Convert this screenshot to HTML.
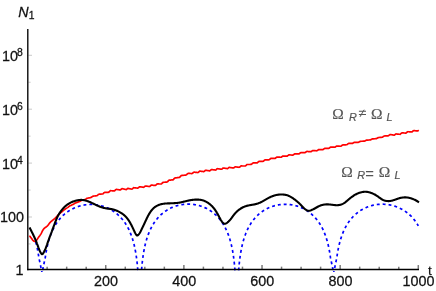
<!DOCTYPE html>
<html><head><meta charset="utf-8"><style>
html,body{margin:0;padding:0;background:#fff;}
body{width:436px;height:291px;position:relative;overflow:hidden;font-family:"Liberation Sans",sans-serif;color:#111;}
.txw{position:absolute;left:0;top:0;width:436px;height:291px;overflow:hidden;will-change:transform;}
.txt{position:absolute;left:0;top:0;width:4360px;height:2910px;transform:scale(0.1);transform-origin:0 0;}
.t{position:absolute;font-size:144px;line-height:1;white-space:nowrap;-webkit-text-stroke:2.6px #111;}
.xl{transform:translateX(-50%);top:2741px;}
.s{font-size:104px;position:relative;}
.lab{position:absolute;color:#555;-webkit-text-stroke:2px #555;white-space:nowrap;line-height:1;font-family:"Liberation Serif",serif;font-size:155px;}
.lab i{font-family:"Liberation Sans",sans-serif;font-size:109px;font-style:italic;position:relative;top:23px;}
.lab b{font-family:"Liberation Sans",sans-serif;font-weight:normal;-webkit-text-stroke:0;position:relative;display:inline-block;}
.lab .ne{font-size:148px;top:-12px;clip-path:inset(27% 0 18% 0);transform:scaleY(0.89);}
.lab .eq{font-size:150px;top:14px;}
</style></head><body>
<svg width="436" height="291" viewBox="0 0 436 291" style="position:absolute;left:0;top:0">
<clipPath id="c"><rect x="27" y="20" width="395" height="251.9"/></clipPath>
<g fill="none" stroke-linejoin="round" clip-path="url(#c)">
<path d="M29.3,235.9 L29.51,236 L29.76,236.21 L30.04,236.51 L30.34,236.89 L30.67,237.33 L31.02,237.81 L31.39,238.32 L31.77,238.84 L32.16,239.35 L32.56,239.85 L32.97,240.31 L33.38,240.72 L33.79,241.05 L34.19,241.31 L34.58,241.46 L34.97,241.5 L35.34,241.41 L35.69,241.21 L36.04,240.91 L36.38,240.53 L36.71,240.09 L37.03,239.61 L37.35,239.11 L37.66,238.62 L37.97,238.14 L38.28,237.68 L38.59,237.25 L38.89,236.83 L39.19,236.43 L39.48,236.03 L39.77,235.65 L40.05,235.26 L40.32,234.87 L40.59,234.48 L40.84,234.07 L41.08,233.65 L41.32,233.22 L41.54,232.77 L41.76,232.32 L41.99,231.86 L42.21,231.41 L42.44,230.95 L42.68,230.5 L42.93,230.06 L43.2,229.64 L43.49,229.23 L43.79,228.84 L44.13,228.47 L44.49,228.13 L44.87,227.82 L45.28,227.52 L45.69,227.23 L46.1,226.94 L46.51,226.64 L46.9,226.34 L47.28,226.01 L47.63,225.66 L47.96,225.29 L48.27,224.9 L48.57,224.49 L48.86,224.08 L49.15,223.67 L49.45,223.27 L49.76,222.87 L50.08,222.49 L50.42,222.13 L50.78,221.79 L51.16,221.46 L51.54,221.13 L51.93,220.82 L52.32,220.51 L52.72,220.2 L53.12,219.89 L53.51,219.58 L53.9,219.27 L54.28,218.94 L54.66,218.61 L55.02,218.26 L55.38,217.92 L55.73,217.57 L56.08,217.21 L56.43,216.85 L56.77,216.48 L57.12,216.11 L57.46,215.74 L57.81,215.37 L58.16,215.02 L58.52,214.67 L58.88,214.33 L59.24,213.99 L59.61,213.66 L59.98,213.33 L60.36,213.01 L60.74,212.7 L61.12,212.38 L61.5,212.07 L61.89,211.77 L62.28,211.43 L62.67,211.08 L63.07,210.74 L63.46,210.39 L63.86,210.09 L64.25,209.8 L64.65,209.51 L65.06,209.23 L65.46,208.95 L65.87,208.67 L66.27,208.4 L66.69,208.14 L67.1,207.88 L67.51,207.62 L67.93,207.33 L68.35,207 L68.77,206.67 L69.19,206.34 L69.62,206.07 L70.05,205.84 L70.48,205.61 L70.91,205.39 L71.35,205.17 L71.79,204.96 L72.23,204.76 L72.67,204.56 L73.12,204.37 L73.56,204.18 L74.01,203.87 L74.46,203.57 L74.92,203.26 L75.37,203 L75.83,202.83 L76.28,202.66 L76.74,202.5 L77.2,202.34 L77.66,202.18 L78.12,202.03 L78.59,201.89 L79.05,201.75 L79.52,201.57 L79.98,201.27 L80.45,200.96 L80.91,200.65 L81.38,200.46 L81.85,200.33 L82.32,200.2 L82.78,200.07 L83.25,199.95 L83.72,199.83 L84.19,199.71 L84.66,199.6 L85.13,199.49 L85.6,199.23 L86.07,198.91 L86.54,198.59 L87.01,198.31 L87.48,198.21 L87.95,198.1 L88.43,198 L88.9,197.9 L89.37,197.8 L89.84,197.71 L90.32,197.62 L90.79,197.54 L91.26,197.38 L91.74,197.03 L92.21,196.68 L92.69,196.31 L93.16,196.19 L93.64,196.11 L94.11,196.03 L94.59,195.97 L95.06,195.9 L95.54,195.84 L96.02,195.79 L96.49,195.74 L96.97,195.69 L97.44,195.28 L97.92,194.87 L98.4,194.44 L98.88,194.23 L99.35,194.18 L99.83,194.14 L100.31,194.1 L100.78,194.07 L101.26,194.04 L101.74,194.02 L102.22,194 L102.7,193.99 L103.18,193.63 L103.65,193.16 L104.13,192.67 L104.61,192.34 L105.09,192.33 L105.57,192.32 L106.05,192.32 L106.53,192.32 L107.01,192.32 L107.49,192.32 L107.97,192.32 L108.46,192.33 L108.94,192.05 L109.42,191.57 L109.91,191.09 L110.39,190.7 L110.88,190.71 L111.36,190.73 L111.85,190.75 L112.34,190.78 L112.82,190.8 L113.31,190.83 L113.8,190.87 L114.29,190.9 L114.78,190.66 L115.27,190.2 L115.76,189.74 L116.26,189.41 L116.75,189.46 L117.24,189.52 L117.74,189.58 L118.23,189.65 L118.73,189.72 L119.22,189.79 L119.72,189.87 L120.22,189.95 L120.71,189.67 L121.21,189.25 L121.71,188.84 L122.21,188.67 L122.71,188.78 L123.21,188.89 L123.71,189.01 L124.21,189.13 L124.71,189.25 L125.21,189.38 L125.71,189.5 L126.21,189.61 L126.71,189.22 L127.21,188.83 L127.71,188.44 L128.21,188.44 L128.7,188.56 L129.2,188.66 L129.7,188.76 L130.2,188.86 L130.69,188.95 L131.19,189.03 L131.68,189.1 L132.18,189.02 L132.67,188.58 L133.17,188.14 L133.66,187.7 L134.15,187.76 L134.65,187.81 L135.14,187.87 L135.63,187.92 L136.13,187.97 L136.62,188.03 L137.11,188.08 L137.61,188.14 L138.1,187.96 L138.59,187.52 L139.09,187.08 L139.58,186.73 L140.08,186.8 L140.57,186.87 L141.07,186.94 L141.56,187.02 L142.06,187.1 L142.56,187.17 L143.05,187.25 L143.55,187.33 L144.04,187.08 L144.54,186.66 L145.04,186.23 L145.53,185.98 L146.03,186.05 L146.52,186.13 L147.02,186.2 L147.51,186.27 L148.01,186.34 L148.5,186.41 L149,186.47 L149.49,186.53 L149.99,186.19 L150.48,185.75 L150.97,185.31 L151.46,185.1 L151.96,185.15 L152.45,185.2 L152.94,185.25 L153.43,185.3 L153.92,185.34 L154.41,185.38 L154.9,185.42 L155.39,185.46 L155.88,185.06 L156.37,184.6 L156.86,184.13 L157.35,183.91 L157.83,183.93 L158.32,183.95 L158.81,183.97 L159.29,183.98 L159.77,183.99 L160.26,184 L160.74,184.01 L161.22,184.01 L161.7,183.62 L162.18,183.13 L162.66,182.63 L163.14,182.31 L163.61,182.29 L164.09,182.27 L164.56,182.24 L165.03,182.21 L165.5,182.18 L165.98,182.15 L166.45,182.12 L166.92,182.08 L167.39,181.84 L167.86,181.32 L168.32,180.81 L168.79,180.29 L169.26,180.2 L169.73,180.16 L170.19,180.11 L170.66,180.06 L171.13,180.02 L171.6,179.97 L172.06,179.93 L172.53,179.88 L173,179.84 L173.46,179.38 L173.93,178.86 L174.4,178.34 L174.87,177.99 L175.33,177.93 L175.8,177.87 L176.27,177.81 L176.74,177.75 L177.2,177.69 L177.67,177.64 L178.14,177.58 L178.61,177.52 L179.08,177.46 L179.55,177.32 L180.02,176.84 L180.48,176.36 L180.95,175.88 L181.42,175.52 L181.89,175.46 L182.37,175.41 L182.84,175.36 L183.31,175.32 L183.78,175.27 L184.25,175.23 L184.73,175.19 L185.2,175.16 L185.68,175.13 L186.16,175 L186.64,174.55 L187.12,174.1 L187.6,173.65 L188.08,173.38 L188.56,173.39 L189.05,173.41 L189.53,173.43 L190.02,173.45 L190.51,173.49 L191,173.52 L191.49,173.56 L191.98,173.6 L192.47,173.3 L192.96,172.85 L193.45,172.4 L193.95,172.12 L194.44,172.17 L194.93,172.23 L195.43,172.28 L195.92,172.34 L196.41,172.39 L196.91,172.45 L197.4,172.51 L197.89,172.56 L198.39,172.24 L198.88,171.8 L199.37,171.36 L199.87,171.13 L200.36,171.19 L200.86,171.26 L201.35,171.32 L201.84,171.38 L202.34,171.45 L202.83,171.51 L203.33,171.58 L203.82,171.65 L204.32,171.29 L204.81,170.86 L205.31,170.43 L205.8,170.27 L206.3,170.34 L206.79,170.41 L207.29,170.49 L207.78,170.56 L208.28,170.64 L208.77,170.72 L209.27,170.79 L209.77,170.87 L210.26,170.45 L210.76,170.02 L211.25,169.6 L211.75,169.51 L212.25,169.58 L212.74,169.66 L213.24,169.73 L213.73,169.8 L214.23,169.87 L214.72,169.95 L215.22,170.02 L215.71,170.03 L216.21,169.6 L216.7,169.17 L217.2,168.74 L217.7,168.71 L218.19,168.78 L218.69,168.86 L219.18,168.93 L219.68,169.01 L220.17,169.08 L220.67,169.16 L221.17,169.24 L221.66,169.23 L222.16,168.82 L222.66,168.41 L223.15,168 L223.65,168 L224.15,168.08 L224.64,168.17 L225.14,168.25 L225.64,168.34 L226.14,168.42 L226.63,168.51 L227.13,168.59 L227.63,168.57 L228.13,168.18 L228.62,167.78 L229.12,167.39 L229.62,167.42 L230.12,167.51 L230.62,167.59 L231.11,167.68 L231.61,167.77 L232.11,167.85 L232.61,167.94 L233.11,168.02 L233.61,167.97 L234.1,167.58 L234.6,167.19 L235.1,166.8 L235.6,166.85 L236.09,166.92 L236.59,166.99 L237.09,167.06 L237.58,167.12 L238.08,167.18 L238.57,167.24 L239.06,167.29 L239.56,167.19 L240.05,166.78 L240.54,166.37 L241.03,165.95 L241.52,165.94 L242.01,165.96 L242.5,165.98 L242.99,166 L243.47,166.01 L243.96,166.02 L244.45,166.02 L244.93,166.02 L245.42,165.96 L245.9,165.53 L246.39,165.09 L246.87,164.65 L247.36,164.52 L247.84,164.52 L248.32,164.51 L248.81,164.5 L249.29,164.49 L249.78,164.48 L250.26,164.47 L250.74,164.46 L251.23,164.45 L251.71,164.07 L252.19,163.64 L252.67,163.21 L253.16,162.96 L253.64,162.95 L254.12,162.94 L254.61,162.93 L255.09,162.91 L255.57,162.9 L256.06,162.89 L256.54,162.88 L257.03,162.87 L257.51,162.63 L257.99,162.21 L258.48,161.79 L258.96,161.43 L259.45,161.42 L259.93,161.41 L260.42,161.4 L260.9,161.39 L261.39,161.38 L261.87,161.37 L262.35,161.36 L262.84,161.34 L263.32,161.23 L263.81,160.82 L264.29,160.4 L264.78,159.99 L265.26,159.89 L265.74,159.88 L266.23,159.86 L266.71,159.85 L267.19,159.83 L267.68,159.81 L268.16,159.8 L268.65,159.79 L269.13,159.77 L269.61,159.4 L270.1,158.99 L270.58,158.59 L271.07,158.36 L271.56,158.36 L272.04,158.35 L272.53,158.35 L273.02,158.36 L273.51,158.36 L273.99,158.37 L274.48,158.38 L274.97,158.39 L275.46,158.15 L275.95,157.76 L276.45,157.38 L276.94,157.09 L277.43,157.11 L277.92,157.13 L278.41,157.16 L278.9,157.18 L279.4,157.2 L279.89,157.22 L280.38,157.25 L280.87,157.27 L281.37,157.1 L281.86,156.72 L282.35,156.35 L282.84,156.01 L283.33,156.03 L283.83,156.05 L284.32,156.07 L284.81,156.1 L285.3,156.12 L285.79,156.14 L286.29,156.16 L286.78,156.18 L287.27,156.06 L287.76,155.69 L288.25,155.31 L288.74,154.94 L289.24,154.93 L289.73,154.95 L290.22,154.97 L290.71,154.99 L291.2,155.01 L291.69,155.03 L292.18,155.04 L292.68,155.06 L293.17,155 L293.66,154.63 L294.15,154.25 L294.64,153.87 L295.13,153.8 L295.62,153.81 L296.11,153.83 L296.6,153.84 L297.09,153.85 L297.58,153.85 L298.07,153.86 L298.56,153.87 L299.05,153.88 L299.54,153.49 L300.03,153.11 L300.52,152.73 L301.01,152.58 L301.5,152.58 L301.99,152.59 L302.48,152.6 L302.97,152.61 L303.46,152.62 L303.95,152.63 L304.44,152.65 L304.93,152.67 L305.42,152.37 L305.92,152.01 L306.41,151.65 L306.9,151.44 L307.4,151.47 L307.89,151.5 L308.38,151.53 L308.88,151.56 L309.37,151.6 L309.87,151.63 L310.36,151.67 L310.86,151.7 L311.35,151.46 L311.84,151.11 L312.34,150.76 L312.83,150.54 L313.33,150.57 L313.82,150.61 L314.32,150.64 L314.81,150.67 L315.31,150.7 L315.8,150.73 L316.29,150.76 L316.79,150.78 L317.28,150.56 L317.77,150.2 L318.26,149.84 L318.76,149.57 L319.25,149.59 L319.74,149.6 L320.23,149.61 L320.72,149.62 L321.21,149.63 L321.7,149.64 L322.19,149.65 L322.68,149.66 L323.17,149.47 L323.66,149.1 L324.15,148.72 L324.64,148.38 L325.13,148.38 L325.62,148.38 L326.11,148.38 L326.6,148.38 L327.08,148.37 L327.57,148.37 L328.06,148.37 L328.55,148.37 L329.04,148.26 L329.53,147.89 L330.02,147.51 L330.51,147.15 L331,147.11 L331.49,147.12 L331.98,147.13 L332.47,147.14 L332.96,147.16 L333.46,147.18 L333.95,147.2 L334.44,147.23 L334.94,147.2 L335.43,146.85 L335.93,146.51 L336.42,146.16 L336.92,146.11 L337.41,146.13 L337.91,146.16 L338.4,146.18 L338.89,146.21 L339.38,146.22 L339.88,146.24 L340.37,146.25 L340.86,146.23 L341.35,145.86 L341.83,145.49 L342.32,145.11 L342.8,144.96 L343.29,144.94 L343.77,144.92 L344.26,144.89 L344.74,144.86 L345.22,144.83 L345.71,144.8 L346.19,144.77 L346.67,144.73 L347.15,144.43 L347.64,144.05 L348.12,143.67 L348.61,143.42 L349.09,143.4 L349.58,143.39 L350.07,143.37 L350.56,143.36 L351.05,143.36 L351.54,143.35 L352.03,143.35 L352.52,143.34 L353.01,143.15 L353.5,142.84 L354,142.53 L354.49,142.29 L354.98,142.3 L355.48,142.31 L355.97,142.31 L356.47,142.31 L356.96,142.31 L357.45,142.31 L357.95,142.3 L358.44,142.29 L358.93,142.13 L359.42,141.84 L359.91,141.55 L360.41,141.31 L360.9,141.29 L361.39,141.27 L361.88,141.25 L362.37,141.23 L362.86,141.21 L363.35,141.19 L363.84,141.17 L364.33,141.14 L364.82,141 L365.31,140.71 L365.8,140.42 L366.29,140.13 L366.78,140.11 L367.27,140.09 L367.76,140.06 L368.25,140.04 L368.74,140.02 L369.23,139.99 L369.72,139.97 L370.21,139.94 L370.7,139.84 L371.19,139.54 L371.68,139.24 L372.17,138.95 L372.66,138.89 L373.15,138.86 L373.64,138.83 L374.12,138.8 L374.61,138.77 L375.1,138.74 L375.59,138.7 L376.08,138.67 L376.56,138.59 L377.05,138.29 L377.54,137.98 L378.02,137.67 L378.51,137.55 L378.99,137.51 L379.48,137.47 L379.96,137.42 L380.45,137.38 L380.93,137.33 L381.42,137.29 L381.9,137.25 L382.39,137.22 L382.87,136.91 L383.36,136.56 L383.84,136.2 L384.33,135.98 L384.81,135.94 L385.3,135.91 L385.78,135.88 L386.27,135.86 L386.76,135.85 L387.24,135.85 L387.73,135.86 L388.22,135.87 L388.71,135.58 L389.2,135.2 L389.69,134.82 L390.19,134.61 L390.68,134.65 L391.18,134.71 L391.67,134.78 L392.17,134.86 L392.67,134.94 L393.17,135.02 L393.67,135.1 L394.16,135.18 L394.66,134.84 L395.16,134.46 L395.66,134.07 L396.15,133.94 L396.65,134 L397.14,134.06 L397.64,134.11 L398.13,134.15 L398.62,134.2 L399.11,134.23 L399.6,134.27 L400.1,134.3 L400.59,133.88 L401.08,133.45 L401.57,133.02 L402.06,132.89 L402.55,132.92 L403.04,132.94 L403.53,132.97 L404.02,133 L404.51,133.02 L405,133.05 L405.49,133.08 L405.98,133.1 L406.47,132.68 L406.96,132.26 L407.45,131.83 L407.94,131.71 L408.43,131.74 L408.92,131.77 L409.42,131.81 L409.91,131.85 L410.4,131.88 L410.89,131.92 L411.38,131.96 L411.87,131.98 L412.37,131.56 L412.86,131.14 L413.35,130.73 L413.84,130.63 L414.34,130.68 L414.83,130.72 L415.32,130.77 L415.81,130.81 L416.31,130.86 L416.8,130.91 L417.3,130.96 L417.79,130.95 L418.28,130.55 L418.7,130.2" stroke="#ff0000" stroke-width="1.7"/>
<path d="M35.8,242.09 L35.9,242.46 L36,242.84 L36.1,243.22 L36.2,243.61 L36.3,244.01 L36.4,244.42 L36.5,244.83 L36.6,245.25 L36.7,245.68 L36.8,246.12 L36.9,246.57 L37,247.02 L37.1,247.48 L37.2,247.96 L37.3,248.44 L37.4,248.94 L37.5,249.44 L37.6,249.96 L37.7,250.49 L37.8,251.03 L37.9,251.58 L38,252.15 L38.1,252.73 L38.2,253.33 L38.3,253.94 L38.4,254.57 L38.5,255.22 L38.6,255.88 L38.7,256.57 L38.8,257.28 L38.9,258.01 L39,258.19 L39.1,258.67 L39.2,259.15 L39.3,259.63 L39.4,260.11 L39.5,260.58 L39.6,261.06 L39.7,261.54 L39.8,262.02 L39.9,262.5 L40,262.98 L40.1,263.46 L40.2,263.94 L40.3,264.42 L40.4,264.9 L40.5,265.37 L40.6,265.85 L40.7,266.33 L40.8,266.81 L40.9,267.29 L41,267.77 L41.1,268.25 L41.2,268.73 L41.3,269.21 L41.4,269.69 L41.5,270.17 L41.6,270.64 L41.7,271.12 L41.8,271.6 L41.9,272.08 L42,272.56" stroke="#0000ff" stroke-width="1.7" stroke-dasharray="2.9 3.0" stroke-dashoffset="0"/>
<path d="M42.1,272.56 L42.2,272.08 L42.3,271.6 L42.4,271.12 L42.5,270.64 L42.6,270.17 L42.7,269.69 L42.8,269.21 L42.9,268.73 L43,268.25 L43.1,267.77 L43.2,267.29 L43.3,266.81 L43.4,266.33 L43.5,265.85 L43.6,265.37 L43.7,264.9 L43.8,264.42 L43.9,263.94 L44,263.46 L44.1,262.98 L44.2,262.5 L44.3,262.02 L44.4,261.54 L44.5,261.06 L44.6,260.58 L44.7,260.11 L44.8,259.63 L44.9,259.15 L45,258.67 L45.1,258.19 L45.2,258.1 L45.3,257.37 L45.4,256.66 L45.5,255.97 L45.6,255.31 L45.7,254.66 L45.8,254.03 L45.9,253.42 L46,252.82 L46.1,252.24 L46.2,251.67 L46.3,251.12 L46.4,250.58 L46.5,250.05 L46.6,249.53 L46.7,249.03 L46.8,248.53 L46.9,248.05 L47,247.58 L47.1,247.11 L47.2,246.66 L47.3,246.21 L47.4,245.77 L47.5,245.34 L47.6,244.92 L47.7,244.51 L47.8,244.1 L47.9,243.7 L48,243.31 L48.1,242.93 L48.2,242.55 L48.3,242.18 L48.4,241.81 L48.5,241.45 L48.6,241.09 L48.7,240.74 L48.8,240.4 L48.9,240.06 L49,239.73 L49.3,238.76 L49.8,237.22 L50.3,235.79 L50.8,234.45 L51.3,233.19 L51.8,231.99 L52.3,230.86 L52.8,229.79 L53.3,228.77 L53.8,227.8 L54.3,226.87 L54.8,225.99 L55.3,225.14 L55.8,224.33 L56.3,223.55 L56.8,222.8 L57.3,222.08 L57.8,221.39 L58.3,220.73 L58.8,220.08 L59.3,219.47 L59.8,218.87 L60.3,218.29 L60.8,217.74 L61.3,217.2 L61.8,216.68 L62.3,216.18 L62.8,215.69 L63.3,215.22 L63.8,214.77 L64.3,214.33 L64.8,213.9 L65.3,213.49 L65.8,213.09 L66.3,212.7 L66.8,212.33 L67.3,211.97 L67.8,211.62 L68.3,211.28 L68.8,210.95 L69.3,210.63 L69.8,210.32 L70.3,210.02 L70.8,209.73 L71.3,209.45 L71.8,209.18 L72.3,208.92 L72.8,208.67 L73.3,208.43 L73.8,208.19 L74.3,207.97 L74.8,207.75 L75.3,207.54 L75.8,207.34 L76.3,207.14 L76.8,206.95 L77.3,206.78 L77.8,206.6 L78.3,206.44 L78.8,206.28 L79.3,206.13 L79.8,205.99 L80.3,205.85 L80.8,205.72 L81.3,205.6 L81.8,205.48 L82.3,205.37 L82.8,205.27 L83.3,205.17 L83.8,205.08 L84.3,205 L84.8,204.92 L85.3,204.85 L85.8,204.78 L86.3,204.72 L86.8,204.67 L87.3,204.62 L87.8,204.58 L88.3,204.55 L88.8,204.52 L89.3,204.5 L89.8,204.48 L90.3,204.47 L90.8,204.47 L91.3,204.47 L91.8,204.48 L92.3,204.49 L92.8,204.51 L93.3,204.54 L93.8,204.57 L94.3,204.61 L94.8,204.66 L95.3,204.71 L95.8,204.76 L96.3,204.83 L96.8,204.9 L97.3,204.97 L97.8,205.05 L98.3,205.14 L98.8,205.24 L99.3,205.34 L99.8,205.45 L100.3,205.56 L100.8,205.68 L101.3,205.81 L101.8,205.94 L102.3,206.09 L102.8,206.23 L103.3,206.39 L103.8,206.55 L104.3,206.72 L104.8,206.9 L105.3,207.09 L105.8,207.28 L106.3,207.48 L106.8,207.69 L107.3,207.9 L107.8,208.12 L108.3,208.36 L108.8,208.6 L109.3,208.85 L109.8,209.11 L110.3,209.37 L110.8,209.65 L111.3,209.93 L111.8,210.23 L112.3,210.53 L112.8,210.85 L113.3,211.18 L113.8,211.51 L114.3,211.86 L114.8,212.22 L115.3,212.59 L115.8,212.97 L116.3,213.37 L116.8,213.78 L117.3,214.2 L117.8,214.64 L118.3,215.09 L118.8,215.55 L119.3,216.03 L119.8,216.53 L120.3,217.04 L120.8,217.57 L121.3,218.12 L121.8,218.69 L122.3,219.29 L122.8,219.9 L123.3,220.53 L123.8,221.19 L124.3,221.87 L124.8,222.58 L125.3,223.32 L125.8,224.09 L126.3,224.89 L126.8,225.73 L127.3,226.6 L127.8,227.52 L128.3,228.48 L128.8,229.48 L129.3,230.54 L129.8,231.65 L130.3,232.82 L130.8,234.06 L131.3,235.38 L131.8,236.79 L132.3,238.29 L132.7,239.56 L132.8,239.89 L132.9,240.23 L133,240.57 L133.1,240.92 L133.2,241.27 L133.3,241.63 L133.4,241.99 L133.5,242.36 L133.6,242.74 L133.7,243.12 L133.8,243.51 L133.9,243.9 L134,244.3 L134.1,244.71 L134.2,245.13 L134.3,245.56 L134.4,245.99 L134.5,246.43 L134.6,246.88 L134.7,247.34 L134.8,247.81 L134.9,248.29 L135,248.78 L135.1,249.28 L135.2,249.79 L135.3,250.31 L135.4,250.85 L135.5,251.39 L135.6,251.95 L135.7,252.53 L135.8,253.12 L135.9,253.72 L136,254.34 L136.1,254.98 L136.2,255.64 L136.3,256.32 L136.4,257.01 L136.5,257.73 L136.6,258.47 L136.7,259.23 L136.8,260.03 L136.9,260.85 L137,261.69 L137.1,262.58 L137.2,263.49 L137.3,264.45 L137.4,265.44 L137.5,266.48 L137.6,267.57 L137.7,268.71 L137.8,269.9 L137.9,271.17 L138,272.51 L138.1,273.92 L138.2,275.43 L138.3,277.05 L138.4,278.78 L138.5,280.65 L138.6,282.69 L138.7,284.92 L138.8,287.38 L138.9,290 L139,290 L139.1,290 L139.2,290 L139.3,290 L139.4,290 L139.5,290 L139.6,290 L139.7,290" stroke="#0000ff" stroke-width="1.7" stroke-dasharray="2.9 3.0" stroke-dashoffset="3.3"/>
<path d="M139.7,290 L139.8,290 L139.9,290 L140,290 L140.1,290 L140.2,290 L140.3,290 L140.4,290 L140.5,289.66 L140.6,286.9 L140.7,284.44 L140.8,282.21 L140.9,280.17 L141,278.3 L141.1,276.56 L141.2,274.95 L141.3,273.44 L141.4,272.02 L141.5,270.69 L141.6,269.42 L141.7,268.22 L141.8,267.08 L141.9,266 L142,264.96 L142.1,263.96 L142.2,263.01 L142.3,262.09 L142.4,261.21 L142.5,260.36 L142.6,259.54 L142.7,258.75 L142.8,257.99 L142.9,257.25 L143,256.53 L143.1,255.83 L143.2,255.16 L143.3,254.5 L143.4,253.86 L143.5,253.24 L143.6,252.64 L143.7,252.05 L143.8,251.47 L143.9,250.91 L144,250.36 L144.1,249.83 L144.2,249.31 L144.3,248.8 L144.4,248.3 L144.5,247.81 L144.6,247.33 L144.7,246.86 L144.8,246.4 L144.9,245.95 L145,245.51 L145.1,245.08 L145.2,244.65 L145.3,244.23 L145.4,243.82 L145.5,243.42 L145.6,243.03 L145.7,242.64 L145.8,242.26 L145.9,241.88 L146,241.51 L146.1,241.15 L146.2,240.79 L146.3,240.44 L146.4,240.09 L146.5,239.75 L146.6,239.41 L146.8,238.76 L147.3,237.19 L147.8,235.73 L148.3,234.37 L148.8,233.08 L149.3,231.87 L149.8,230.72 L150.3,229.63 L150.8,228.6 L151.3,227.61 L151.8,226.67 L152.3,225.77 L152.8,224.92 L153.3,224.1 L153.8,223.31 L154.3,222.55 L154.8,221.82 L155.3,221.13 L155.8,220.45 L156.3,219.81 L156.8,219.18 L157.3,218.58 L157.8,218 L158.3,217.44 L158.8,216.89 L159.3,216.37 L159.8,215.86 L160.3,215.37 L160.8,214.9 L161.3,214.44 L161.8,214 L162.3,213.57 L162.8,213.16 L163.3,212.75 L163.8,212.36 L164.3,211.99 L164.8,211.62 L165.3,211.27 L165.8,210.93 L166.3,210.6 L166.8,210.28 L167.3,209.97 L167.8,209.67 L168.3,209.38 L168.8,209.1 L169.3,208.82 L169.8,208.56 L170.3,208.31 L170.8,208.07 L171.3,207.83 L171.8,207.6 L172.3,207.38 L172.8,207.17 L173.3,206.97 L173.8,206.78 L174.3,206.59 L174.8,206.41 L175.3,206.24 L175.8,206.07 L176.3,205.91 L176.8,205.76 L177.3,205.62 L177.8,205.48 L178.3,205.35 L178.8,205.23 L179.3,205.11 L179.8,205 L180.3,204.9 L180.8,204.8 L181.3,204.71 L181.8,204.63 L182.3,204.55 L182.8,204.48 L183.3,204.42 L183.8,204.36 L184.3,204.31 L184.8,204.26 L185.3,204.22 L185.8,204.19 L186.3,204.16 L186.8,204.14 L187.3,204.13 L187.8,204.12 L188.3,204.12 L188.8,204.12 L189.3,204.13 L189.8,204.15 L190.3,204.17 L190.8,204.2 L191.3,204.23 L191.8,204.27 L192.3,204.32 L192.8,204.37 L193.3,204.43 L193.8,204.5 L194.3,204.57 L194.8,204.65 L195.3,204.73 L195.8,204.82 L196.3,204.92 L196.8,205.03 L197.3,205.14 L197.8,205.25 L198.3,205.38 L198.8,205.51 L199.3,205.65 L199.8,205.79 L200.3,205.94 L200.8,206.1 L201.3,206.27 L201.8,206.44 L202.3,206.62 L202.8,206.81 L203.3,207.01 L203.8,207.21 L204.3,207.43 L204.8,207.65 L205.3,207.88 L205.8,208.11 L206.3,208.36 L206.8,208.61 L207.3,208.88 L207.8,209.15 L208.3,209.43 L208.8,209.73 L209.3,210.03 L209.8,210.34 L210.3,210.66 L210.8,210.99 L211.3,211.34 L211.8,211.69 L212.3,212.06 L212.8,212.44 L213.3,212.83 L213.8,213.24 L214.3,213.66 L214.8,214.09 L215.3,214.53 L215.8,214.99 L216.3,215.47 L216.8,215.96 L217.3,216.47 L217.8,217 L218.3,217.55 L218.8,218.11 L219.3,218.7 L219.8,219.3 L220.3,219.93 L220.8,220.59 L221.3,221.26 L221.8,221.97 L222.3,222.7 L222.8,223.46 L223.3,224.26 L223.8,225.09 L224.3,225.95 L224.8,226.86 L225.3,227.8 L225.8,228.8 L226.3,229.84 L226.8,230.94 L227.3,232.1 L227.8,233.33 L228.3,234.63 L228.8,236.02 L229.3,237.5 L229.8,239.08 L229.9,239.41 L230,239.75 L230.1,240.09 L230.2,240.44 L230.3,240.79 L230.4,241.15 L230.5,241.51 L230.6,241.88 L230.7,242.26 L230.8,242.64 L230.9,243.03 L231,243.42 L231.1,243.82 L231.2,244.23 L231.3,244.65 L231.4,245.08 L231.5,245.51 L231.6,245.95 L231.7,246.4 L231.8,246.86 L231.9,247.33 L232,247.81 L232.1,248.3 L232.2,248.8 L232.3,249.31 L232.4,249.83 L232.5,250.36 L232.6,250.91 L232.7,251.47 L232.8,252.05 L232.9,252.64 L233,253.24 L233.1,253.86 L233.2,254.5 L233.3,255.16 L233.4,255.83 L233.5,256.53 L233.6,257.25 L233.7,257.99 L233.8,258.75 L233.9,259.54 L234,260.36 L234.1,261.21 L234.2,262.09 L234.3,263.01 L234.4,263.96 L234.5,264.96 L234.6,266 L234.7,267.08 L234.8,268.22 L234.9,269.42 L235,270.69 L235.1,272.02 L235.2,273.44 L235.3,274.95 L235.4,276.56 L235.5,278.3 L235.6,280.17 L235.7,282.21 L235.8,284.44 L235.9,286.9 L236,289.66 L236.1,290 L236.2,290 L236.3,290 L236.4,290 L236.5,290 L236.6,290 L236.7,290 L236.8,290" stroke="#0000ff" stroke-width="1.7" stroke-dasharray="2.9 3.0" stroke-dashoffset="2.48"/>
<path d="M236.8,290 L236.9,290 L237,290 L237.1,290 L237.2,290 L237.3,290 L237.4,290 L237.5,290 L237.6,289.79 L237.7,287.03 L237.8,284.57 L237.9,282.33 L238,280.3 L238.1,278.43 L238.2,276.69 L238.3,275.08 L238.4,273.57 L238.5,272.15 L238.6,270.82 L238.7,269.55 L238.8,268.35 L238.9,267.21 L239,266.12 L239.1,265.09 L239.2,264.09 L239.3,263.14 L239.4,262.22 L239.5,261.34 L239.6,260.49 L239.7,259.67 L239.8,258.88 L239.9,258.12 L240,257.38 L240.1,256.66 L240.2,255.96 L240.3,255.29 L240.4,254.63 L240.5,253.99 L240.6,253.37 L240.7,252.77 L240.8,252.18 L240.9,251.6 L241,251.04 L241.1,250.49 L241.2,249.96 L241.3,249.44 L241.4,248.93 L241.5,248.43 L241.6,247.94 L241.7,247.46 L241.8,246.99 L241.9,246.53 L242,246.08 L242.1,245.64 L242.2,245.2 L242.3,244.78 L242.4,244.36 L242.5,243.95 L242.6,243.55 L242.7,243.16 L242.8,242.77 L242.9,242.38 L243,242.01 L243.1,241.64 L243.2,241.28 L243.3,240.92 L243.4,240.57 L243.5,240.22 L243.6,239.88 L243.7,239.54 L243.8,239.21 L244.3,237.63 L244.8,236.15 L245.3,234.76 L245.8,233.46 L246.3,232.23 L246.8,231.07 L247.3,229.97 L247.8,228.93 L248.3,227.93 L248.8,226.99 L249.3,226.08 L249.8,225.22 L250.3,224.39 L250.8,223.59 L251.3,222.83 L251.8,222.1 L252.3,221.4 L252.8,220.72 L253.3,220.07 L253.8,219.44 L254.3,218.83 L254.8,218.25 L255.3,217.68 L255.8,217.14 L256.3,216.61 L256.8,216.1 L257.3,215.61 L257.8,215.13 L258.3,214.67 L258.8,214.23 L259.3,213.79 L259.8,213.38 L260.3,212.97 L260.8,212.58 L261.3,212.2 L261.8,211.84 L262.3,211.48 L262.8,211.14 L263.3,210.81 L263.8,210.48 L264.3,210.17 L264.8,209.87 L265.3,209.58 L265.8,209.3 L266.3,209.03 L266.8,208.76 L267.3,208.51 L267.8,208.26 L268.3,208.03 L268.8,207.8 L269.3,207.58 L269.8,207.37 L270.3,207.16 L270.8,206.97 L271.3,206.78 L271.8,206.6 L272.3,206.43 L272.8,206.26 L273.3,206.1 L273.8,205.95 L274.3,205.81 L274.8,205.67 L275.3,205.54 L275.8,205.42 L276.3,205.3 L276.8,205.19 L277.3,205.09 L277.8,204.99 L278.3,204.9 L278.8,204.82 L279.3,204.74 L279.8,204.67 L280.3,204.61 L280.8,204.55 L281.3,204.5 L281.8,204.45 L282.3,204.41 L282.8,204.38 L283.3,204.35 L283.8,204.33 L284.3,204.32 L284.8,204.31 L285.3,204.31 L285.8,204.31 L286.3,204.32 L286.8,204.34 L287.3,204.36 L287.8,204.39 L288.3,204.42 L288.8,204.46 L289.3,204.51 L289.8,204.57 L290.3,204.63 L290.8,204.69 L291.3,204.76 L291.8,204.84 L292.3,204.93 L292.8,205.02 L293.3,205.12 L293.8,205.22 L294.3,205.34 L294.8,205.45 L295.3,205.58 L295.8,205.71 L296.3,205.85 L296.8,206 L297.3,206.15 L297.8,206.31 L298.3,206.48 L298.8,206.65 L299.3,206.84 L299.8,207.03 L300.3,207.22 L300.8,207.43 L301.3,207.64 L301.8,207.87 L302.3,208.1 L302.8,208.34 L303.3,208.58 L303.8,208.84 L304.3,209.11 L304.8,209.38 L305.3,209.67 L305.8,209.96 L306.3,210.26 L306.8,210.58 L307.3,210.9 L307.8,211.24 L308.3,211.59 L308.8,211.95 L309.3,212.32 L309.8,212.7 L310.3,213.09 L310.8,213.5 L311.3,213.92 L311.8,214.36 L312.3,214.81 L312.8,215.27 L313.3,215.75 L313.8,216.25 L314.3,216.77 L314.8,217.3 L315.3,217.85 L315.8,218.42 L316.3,219.01 L316.8,219.62 L317.3,220.26 L317.8,220.92 L318.3,221.61 L318.8,222.32 L319.3,223.06 L319.8,223.83 L320.3,224.63 L320.8,225.47 L321.3,226.35 L321.8,227.27 L322.3,228.23 L322.8,229.24 L323.3,230.3 L323.8,231.41 L324.3,232.59 L324.8,233.84 L325.3,235.17 L325.8,236.58 L326.3,238.09 L326.7,239.38 L326.8,239.71 L326.9,240.05 L327,240.39 L327.1,240.74 L327.2,241.1 L327.3,241.46 L327.4,241.82 L327.5,242.2 L327.6,242.57 L327.7,242.96 L327.8,243.35 L327.9,243.75 L328,244.16 L328.1,244.57 L328.2,244.99 L328.3,245.42 L328.4,245.86 L328.5,246.3 L328.6,246.76 L328.7,247.22 L328.8,247.7 L328.9,248.18 L329,248.67 L329.1,249.18 L329.2,249.7 L329.3,250.22 L329.4,250.76 L329.5,251.32 L329.6,251.89 L329.7,252.47 L329.8,253.07 L329.9,253.68 L330,254.31 L330.1,254.96 L330.2,255.62 L330.3,256.31 L330.4,257.01 L330.5,257.74 L330.6,258.19 L330.7,258.67 L330.8,259.15 L330.9,259.63 L331,260.11 L331.1,260.58 L331.2,261.06 L331.3,261.54 L331.4,262.02 L331.5,262.5 L331.6,262.98 L331.7,263.46 L331.8,263.94 L331.9,264.42 L332,264.9 L332.1,265.37 L332.2,265.85 L332.3,266.33 L332.4,266.81 L332.5,267.29 L332.6,267.77 L332.7,268.25 L332.8,268.73 L332.9,269.21 L333,269.69 L333.1,270.17 L333.2,270.64 L333.3,271.12 L333.4,271.6 L333.5,272.08 L333.6,272.56" stroke="#0000ff" stroke-width="1.7" stroke-dasharray="2.9 3.0" stroke-dashoffset="3.22"/>
<path d="M333.7,272.56 L333.8,272.08 L333.9,271.6 L334,271.12 L334.1,270.64 L334.2,270.17 L334.3,269.69 L334.4,269.21 L334.5,268.73 L334.6,268.25 L334.7,267.77 L334.8,267.29 L334.9,266.81 L335,266.33 L335.1,265.85 L335.2,265.37 L335.3,264.9 L335.4,264.42 L335.5,263.94 L335.6,263.46 L335.7,262.98 L335.8,262.5 L335.9,262.02 L336,261.54 L336.1,261.06 L336.2,260.58 L336.3,260.11 L336.4,259.63 L336.5,259.15 L336.6,258.67 L336.7,258.19 L336.8,257.74 L336.9,257.01 L337,256.3 L337.1,255.61 L337.2,254.95 L337.3,254.3 L337.4,253.67 L337.5,253.06 L337.6,252.46 L337.7,251.88 L337.8,251.31 L337.9,250.76 L338,250.22 L338.1,249.69 L338.2,249.17 L338.3,248.67 L338.4,248.17 L338.5,247.69 L338.6,247.22 L338.7,246.75 L338.8,246.3 L338.9,245.85 L339,245.41 L339.1,244.98 L339.2,244.56 L339.3,244.15 L339.4,243.74 L339.5,243.34 L339.6,242.95 L339.7,242.57 L339.8,242.19 L339.9,241.82 L340,241.45 L340.1,241.09 L340.2,240.73 L340.3,240.38 L340.4,240.04 L340.5,239.7 L340.6,239.37 L340.8,238.72 L341.3,237.16 L341.8,235.71 L342.3,234.35 L342.8,233.08 L343.3,231.87 L343.8,230.73 L344.3,229.64 L344.8,228.61 L345.3,227.63 L345.8,226.7 L346.3,225.81 L346.8,224.95 L347.3,224.13 L347.8,223.35 L348.3,222.6 L348.8,221.87 L349.3,221.18 L349.8,220.51 L350.3,219.86 L350.8,219.24 L351.3,218.64 L351.8,218.06 L352.3,217.5 L352.8,216.96 L353.3,216.44 L353.8,215.93 L354.3,215.44 L354.8,214.97 L355.3,214.51 L355.8,214.07 L356.3,213.64 L356.8,213.23 L357.3,212.83 L357.8,212.44 L358.3,212.06 L358.8,211.7 L359.3,211.35 L359.8,211.01 L360.3,210.67 L360.8,210.35 L361.3,210.05 L361.8,209.75 L362.3,209.46 L362.8,209.18 L363.3,208.91 L363.8,208.64 L364.3,208.39 L364.8,208.15 L365.3,207.91 L365.8,207.69 L366.3,207.47 L366.8,207.26 L367.3,207.05 L367.8,206.86 L368.3,206.67 L368.8,206.49 L369.3,206.32 L369.8,206.16 L370.3,206 L370.8,205.85 L371.3,205.7 L371.8,205.57 L372.3,205.44 L372.8,205.31 L373.3,205.2 L373.8,205.09 L374.3,204.99 L374.8,204.89 L375.3,204.8 L375.8,204.72 L376.3,204.64 L376.8,204.57 L377.3,204.5 L377.8,204.45 L378.3,204.39 L378.8,204.35 L379.3,204.31 L379.8,204.27 L380.3,204.25 L380.8,204.23 L381.3,204.21 L381.8,204.2 L382.3,204.2 L382.8,204.2 L383.3,204.21 L383.8,204.23 L384.3,204.25 L384.8,204.28 L385.3,204.31 L385.8,204.35 L386.3,204.4 L386.8,204.45 L387.3,204.51 L387.8,204.57 L388.3,204.64 L388.8,204.72 L389.3,204.8 L389.8,204.9 L390.3,204.99 L390.8,205.1 L391.3,205.21 L391.8,205.32 L392.3,205.45 L392.8,205.58 L393.3,205.71 L393.8,205.86 L394.3,206.01 L394.8,206.17 L395.3,206.33 L395.8,206.5 L396.3,206.68 L396.8,206.87 L397.3,207.07 L397.8,207.27 L398.3,207.48 L398.8,207.7 L399.3,207.93 L399.8,208.16 L400.3,208.41 L400.8,208.66 L401.3,208.92 L401.8,209.19 L402.3,209.47 L402.8,209.76 L403.3,210.06 L403.8,210.37 L404.3,210.69 L404.8,211.03 L405.3,211.37 L405.8,211.72 L406.3,212.09 L406.8,212.46 L407.3,212.85 L407.8,213.25 L408.3,213.67 L408.8,214.1 L409.3,214.54 L409.8,215 L410.3,215.47 L410.8,215.96 L411.3,216.47 L411.8,216.99 L412.3,217.53 L412.8,218.09 L413.3,218.67 L413.8,219.27 L414.3,219.9 L414.8,220.54 L415.3,221.22 L415.8,221.91 L416.3,222.64 L416.8,223.4 L417.3,224.18 L417.8,225 L418.3,225.86" stroke="#0000ff" stroke-width="1.7" stroke-dasharray="2.9 3.0" stroke-dashoffset="1.29"/>
<path d="M29.5,227.4 L29.73,227.85 L29.96,228.3 L30.19,228.75 L30.42,229.2 L30.64,229.64 L30.87,230.09 L31.1,230.53 L31.33,230.98 L31.55,231.42 L31.78,231.86 L32,232.31 L32.23,232.75 L32.45,233.19 L32.67,233.64 L32.89,234.08 L33.11,234.53 L33.32,234.98 L33.54,235.43 L33.75,235.88 L33.96,236.33 L34.17,236.78 L34.38,237.23 L34.59,237.69 L34.79,238.15 L34.99,238.61 L35.19,239.07 L35.39,239.54 L35.59,240.01 L35.78,240.48 L35.97,240.95 L36.16,241.43 L36.34,241.91 L36.52,242.38 L36.71,242.86 L36.88,243.34 L37.06,243.81 L37.24,244.29 L37.41,244.76 L37.58,245.23 L37.75,245.69 L37.92,246.16 L38.09,246.62 L38.26,247.07 L38.42,247.52 L38.59,247.96 L38.75,248.4 L38.91,248.83 L39.08,249.26 L39.26,249.7 L39.44,250.13 L39.64,250.58 L39.85,251.03 L40.08,251.49 L40.33,251.97 L40.61,252.47 L40.91,252.98 L41.23,253.49 L41.58,253.9 L41.93,254.16 L42.29,254.18 L42.65,253.95 L43,253.55 L43.33,253.06 L43.64,252.52 L43.93,252.01 L44.2,251.52 L44.44,251.05 L44.67,250.6 L44.88,250.16 L45.08,249.72 L45.27,249.3 L45.45,248.88 L45.62,248.45 L45.79,248.02 L45.96,247.59 L46.13,247.14 L46.29,246.7 L46.46,246.24 L46.62,245.78 L46.79,245.31 L46.95,244.84 L47.12,244.37 L47.28,243.89 L47.45,243.41 L47.61,242.93 L47.78,242.44 L47.95,241.96 L48.11,241.47 L48.28,240.99 L48.45,240.5 L48.62,240.02 L48.79,239.54 L48.96,239.06 L49.13,238.59 L49.3,238.11 L49.48,237.64 L49.65,237.17 L49.83,236.7 L50,236.24 L50.18,235.77 L50.35,235.31 L50.53,234.84 L50.71,234.38 L50.88,233.91 L51.06,233.45 L51.23,232.98 L51.41,232.52 L51.58,232.05 L51.76,231.59 L51.93,231.12 L52.11,230.65 L52.28,230.18 L52.45,229.71 L52.63,229.25 L52.8,228.78 L52.98,228.31 L53.15,227.84 L53.32,227.37 L53.5,226.9 L53.67,226.43 L53.85,225.96 L54.02,225.49 L54.2,225.02 L54.37,224.55 L54.55,224.08 L54.72,223.61 L54.9,223.14 L55.07,222.67 L55.25,222.2 L55.43,221.73 L55.61,221.26 L55.79,220.8 L55.97,220.33 L56.15,219.86 L56.34,219.4 L56.53,218.94 L56.73,218.48 L56.93,218.02 L57.13,217.56 L57.34,217.11 L57.56,216.66 L57.78,216.21 L58,215.77 L58.24,215.33 L58.48,214.89 L58.73,214.46 L58.99,214.03 L59.25,213.6 L59.52,213.18 L59.8,212.77 L60.08,212.35 L60.36,211.94 L60.66,211.53 L60.95,211.13 L61.26,210.73 L61.57,210.33 L61.88,209.94 L62.19,209.55 L62.51,209.16 L62.84,208.78 L63.17,208.4 L63.5,208.03 L63.84,207.66 L64.19,207.3 L64.54,206.94 L64.9,206.59 L65.27,206.26 L65.65,205.93 L66.03,205.61 L66.42,205.3 L66.82,205.01 L67.23,204.71 L67.64,204.43 L68.06,204.15 L68.48,203.88 L68.9,203.61 L69.33,203.34 L69.75,203.08 L70.19,202.83 L70.63,202.59 L71.07,202.37 L71.52,202.16 L71.98,201.96 L72.45,201.78 L72.92,201.6 L73.39,201.44 L73.87,201.28 L74.35,201.14 L74.83,200.99 L75.31,200.85 L75.79,200.72 L76.27,200.59 L76.76,200.47 L77.25,200.35 L77.74,200.25 L78.23,200.16 L78.72,200.08 L79.22,200.01 L79.72,199.96 L80.22,199.93 L80.72,199.9 L81.22,199.9 L81.72,199.91 L82.22,199.94 L82.72,199.99 L83.21,200.05 L83.71,200.12 L84.2,200.21 L84.7,200.31 L85.19,200.42 L85.68,200.54 L86.16,200.68 L86.64,200.82 L87.12,200.97 L87.6,201.14 L88.07,201.31 L88.54,201.49 L89,201.67 L89.46,201.86 L89.92,202.06 L90.38,202.26 L90.84,202.47 L91.29,202.68 L91.74,202.89 L92.19,203.11 L92.64,203.33 L93.09,203.55 L93.54,203.77 L93.99,203.99 L94.44,204.21 L94.89,204.43 L95.34,204.65 L95.79,204.86 L96.24,205.08 L96.69,205.29 L97.15,205.5 L97.61,205.7 L98.06,205.9 L98.52,206.1 L98.98,206.29 L99.45,206.48 L99.92,206.66 L100.38,206.84 L100.86,207.01 L101.33,207.17 L101.81,207.32 L102.28,207.47 L102.77,207.62 L103.25,207.75 L103.73,207.88 L104.22,207.99 L104.71,208.1 L105.2,208.21 L105.69,208.3 L106.18,208.38 L106.68,208.46 L107.17,208.53 L107.67,208.59 L108.17,208.66 L108.66,208.72 L109.16,208.78 L109.65,208.84 L110.15,208.91 L110.64,208.98 L111.14,209.06 L111.63,209.15 L112.12,209.24 L112.61,209.35 L113.09,209.47 L113.57,209.6 L114.06,209.74 L114.53,209.88 L115.01,210.04 L115.48,210.21 L115.95,210.38 L116.42,210.57 L116.89,210.76 L117.35,210.96 L117.81,211.16 L118.26,211.38 L118.71,211.6 L119.16,211.83 L119.61,212.06 L120.05,212.31 L120.48,212.56 L120.92,212.82 L121.34,213.08 L121.76,213.36 L122.18,213.64 L122.59,213.93 L122.99,214.23 L123.38,214.53 L123.77,214.85 L124.15,215.17 L124.52,215.5 L124.89,215.84 L125.24,216.18 L125.59,216.54 L125.93,216.9 L126.27,217.27 L126.6,217.65 L126.92,218.03 L127.23,218.42 L127.54,218.81 L127.84,219.21 L128.14,219.62 L128.43,220.03 L128.71,220.45 L128.99,220.87 L129.26,221.3 L129.53,221.73 L129.79,222.16 L130.05,222.6 L130.3,223.04 L130.55,223.49 L130.79,223.94 L131.03,224.39 L131.27,224.84 L131.5,225.29 L131.73,225.75 L131.96,226.21 L132.18,226.66 L132.4,227.12 L132.61,227.57 L132.83,228.03 L133.04,228.48 L133.25,228.93 L133.46,229.38 L133.66,229.82 L133.86,230.26 L134.07,230.7 L134.27,231.13 L134.47,231.56 L134.67,231.99 L134.88,232.42 L135.1,232.85 L135.34,233.29 L135.6,233.74 L135.88,234.21 L136.19,234.69 L136.53,235.13 L136.9,235.43 L137.3,235.5 L137.72,235.32 L138.15,234.98 L138.55,234.55 L138.92,234.11 L139.26,233.68 L139.56,233.25 L139.83,232.83 L140.08,232.4 L140.32,231.98 L140.54,231.56 L140.75,231.14 L140.95,230.71 L141.16,230.28 L141.37,229.85 L141.58,229.41 L141.79,228.97 L142.01,228.52 L142.23,228.07 L142.45,227.62 L142.67,227.16 L142.89,226.71 L143.11,226.25 L143.33,225.79 L143.55,225.34 L143.77,224.88 L143.99,224.42 L144.2,223.96 L144.41,223.5 L144.62,223.05 L144.84,222.59 L145.05,222.13 L145.25,221.68 L145.46,221.23 L145.67,220.77 L145.88,220.32 L146.09,219.87 L146.31,219.42 L146.52,218.97 L146.73,218.52 L146.95,218.07 L147.17,217.62 L147.39,217.18 L147.62,216.73 L147.84,216.29 L148.08,215.85 L148.31,215.41 L148.55,214.97 L148.79,214.53 L149.04,214.09 L149.3,213.66 L149.55,213.23 L149.82,212.81 L150.09,212.38 L150.37,211.97 L150.66,211.56 L150.95,211.15 L151.25,210.75 L151.56,210.36 L151.88,209.97 L152.21,209.59 L152.55,209.22 L152.89,208.85 L153.25,208.5 L153.61,208.15 L153.99,207.82 L154.37,207.5 L154.77,207.18 L155.17,206.88 L155.58,206.6 L156,206.32 L156.43,206.07 L156.86,205.82 L157.31,205.59 L157.76,205.37 L158.22,205.17 L158.69,204.98 L159.16,204.81 L159.63,204.64 L160.11,204.49 L160.59,204.36 L161.08,204.23 L161.57,204.11 L162.06,204.01 L162.55,203.92 L163.04,203.83 L163.54,203.76 L164.03,203.69 L164.53,203.63 L165.03,203.58 L165.53,203.54 L166.03,203.5 L166.53,203.47 L167.02,203.44 L167.52,203.41 L168.02,203.39 L168.52,203.38 L169.02,203.36 L169.52,203.35 L170.02,203.33 L170.52,203.32 L171.02,203.3 L171.52,203.29 L172.02,203.27 L172.52,203.25 L173.02,203.23 L173.53,203.2 L174.03,203.17 L174.53,203.14 L175.03,203.11 L175.52,203.07 L176.02,203.02 L176.52,202.98 L177.02,202.92 L177.52,202.87 L178.01,202.81 L178.51,202.74 L179,202.67 L179.49,202.59 L179.99,202.5 L180.48,202.41 L180.97,202.31 L181.46,202.21 L181.94,202.1 L182.43,201.99 L182.92,201.88 L183.4,201.76 L183.89,201.64 L184.38,201.52 L184.86,201.4 L185.35,201.28 L185.83,201.16 L186.32,201.04 L186.81,200.93 L187.29,200.81 L187.78,200.7 L188.27,200.6 L188.76,200.5 L189.25,200.4 L189.74,200.3 L190.24,200.22 L190.73,200.13 L191.22,200.05 L191.72,199.98 L192.21,199.91 L192.71,199.85 L193.21,199.8 L193.71,199.75 L194.2,199.7 L194.7,199.67 L195.21,199.64 L195.71,199.61 L196.21,199.6 L196.71,199.59 L197.22,199.59 L197.72,199.6 L198.22,199.61 L198.72,199.64 L199.22,199.68 L199.72,199.73 L200.22,199.79 L200.72,199.86 L201.21,199.95 L201.7,200.05 L202.18,200.17 L202.67,200.3 L203.14,200.45 L203.62,200.61 L204.09,200.79 L204.55,200.98 L205.01,201.18 L205.46,201.39 L205.91,201.62 L206.36,201.86 L206.8,202.1 L207.23,202.36 L207.66,202.63 L208.08,202.91 L208.49,203.2 L208.9,203.49 L209.3,203.79 L209.7,204.1 L210.09,204.42 L210.47,204.74 L210.85,205.07 L211.22,205.41 L211.59,205.76 L211.94,206.11 L212.29,206.47 L212.64,206.83 L212.97,207.2 L213.31,207.58 L213.63,207.96 L213.95,208.35 L214.26,208.75 L214.56,209.15 L214.86,209.55 L215.15,209.96 L215.43,210.38 L215.71,210.8 L215.98,211.22 L216.25,211.65 L216.52,212.07 L216.77,212.51 L217.03,212.94 L217.28,213.38 L217.53,213.82 L217.77,214.25 L218.01,214.69 L218.25,215.14 L218.49,215.58 L218.72,216.02 L218.96,216.46 L219.19,216.9 L219.42,217.34 L219.66,217.77 L219.89,218.21 L220.12,218.64 L220.35,219.07 L220.59,219.5 L220.84,219.92 L221.09,220.34 L221.36,220.75 L221.64,221.17 L221.93,221.58 L222.25,221.98 L222.6,222.38 L222.96,222.77 L223.36,223.14 L223.78,223.46 L224.22,223.69 L224.67,223.8 L225.14,223.76 L225.62,223.6 L226.08,223.36 L226.54,223.08 L226.96,222.79 L227.37,222.49 L227.76,222.19 L228.13,221.87 L228.49,221.55 L228.84,221.21 L229.19,220.86 L229.52,220.5 L229.85,220.13 L230.17,219.75 L230.49,219.37 L230.8,218.98 L231.11,218.58 L231.41,218.18 L231.72,217.78 L232.02,217.37 L232.32,216.96 L232.62,216.55 L232.92,216.14 L233.22,215.74 L233.53,215.33 L233.84,214.93 L234.15,214.53 L234.47,214.14 L234.79,213.75 L235.12,213.37 L235.46,212.99 L235.8,212.63 L236.15,212.26 L236.51,211.91 L236.87,211.56 L237.24,211.22 L237.61,210.89 L237.99,210.56 L238.38,210.24 L238.77,209.93 L239.17,209.63 L239.57,209.33 L239.98,209.05 L240.4,208.77 L240.82,208.5 L241.25,208.23 L241.68,207.98 L242.12,207.74 L242.57,207.51 L243.02,207.28 L243.47,207.07 L243.93,206.86 L244.39,206.67 L244.86,206.49 L245.33,206.32 L245.8,206.15 L246.28,206.01 L246.76,205.87 L247.24,205.74 L247.73,205.62 L248.22,205.51 L248.7,205.41 L249.2,205.32 L249.69,205.23 L250.18,205.14 L250.67,205.05 L251.17,204.97 L251.66,204.89 L252.16,204.81 L252.66,204.72 L253.15,204.63 L253.65,204.54 L254.14,204.45 L254.63,204.35 L255.12,204.24 L255.61,204.13 L256.1,204.01 L256.58,203.88 L257.06,203.74 L257.54,203.6 L258.01,203.44 L258.48,203.27 L258.94,203.09 L259.4,202.9 L259.86,202.7 L260.31,202.49 L260.76,202.27 L261.2,202.04 L261.65,201.81 L262.09,201.57 L262.53,201.33 L262.97,201.08 L263.4,200.83 L263.84,200.58 L264.27,200.33 L264.71,200.08 L265.14,199.83 L265.58,199.58 L266.01,199.33 L266.45,199.08 L266.88,198.84 L267.32,198.6 L267.76,198.36 L268.2,198.12 L268.64,197.89 L269.09,197.67 L269.54,197.44 L269.99,197.23 L270.44,197.02 L270.9,196.81 L271.36,196.61 L271.82,196.42 L272.29,196.24 L272.76,196.06 L273.23,195.89 L273.7,195.73 L274.18,195.58 L274.66,195.44 L275.14,195.3 L275.63,195.18 L276.12,195.06 L276.61,194.96 L277.1,194.86 L277.59,194.78 L278.08,194.71 L278.58,194.65 L279.08,194.6 L279.58,194.56 L280.08,194.52 L280.58,194.5 L281.08,194.49 L281.58,194.49 L282.09,194.5 L282.59,194.52 L283.09,194.55 L283.59,194.58 L284.09,194.63 L284.59,194.7 L285.09,194.77 L285.58,194.86 L286.07,194.96 L286.56,195.08 L287.04,195.22 L287.51,195.37 L287.98,195.54 L288.44,195.72 L288.9,195.92 L289.35,196.13 L289.8,196.36 L290.24,196.59 L290.68,196.84 L291.11,197.09 L291.54,197.36 L291.97,197.63 L292.39,197.91 L292.81,198.19 L293.23,198.48 L293.64,198.77 L294.05,199.06 L294.45,199.36 L294.86,199.66 L295.26,199.96 L295.66,200.26 L296.05,200.57 L296.44,200.89 L296.83,201.2 L297.21,201.52 L297.59,201.85 L297.96,202.18 L298.34,202.51 L298.71,202.85 L299.07,203.19 L299.43,203.53 L299.78,203.88 L300.14,204.24 L300.49,204.6 L300.83,204.96 L301.18,205.32 L301.52,205.68 L301.87,206.05 L302.22,206.41 L302.56,206.77 L302.92,207.12 L303.27,207.47 L303.63,207.82 L304,208.16 L304.37,208.5 L304.74,208.82 L305.13,209.14 L305.53,209.44 L305.94,209.73 L306.36,210 L306.8,210.25 L307.26,210.47 L307.73,210.65 L308.22,210.77 L308.71,210.81 L309.2,210.77 L309.7,210.67 L310.19,210.53 L310.67,210.38 L311.15,210.21 L311.61,210.02 L312.07,209.83 L312.53,209.63 L312.98,209.41 L313.42,209.19 L313.86,208.96 L314.3,208.72 L314.74,208.48 L315.18,208.23 L315.61,207.98 L316.04,207.73 L316.48,207.49 L316.92,207.24 L317.35,207 L317.79,206.76 L318.24,206.53 L318.69,206.3 L319.14,206.09 L319.6,205.89 L320.06,205.69 L320.53,205.52 L321,205.35 L321.48,205.2 L321.96,205.06 L322.45,204.93 L322.94,204.81 L323.43,204.71 L323.93,204.62 L324.42,204.55 L324.92,204.49 L325.42,204.44 L325.92,204.4 L326.42,204.38 L326.92,204.37 L327.42,204.38 L327.92,204.39 L328.42,204.41 L328.92,204.45 L329.42,204.48 L329.92,204.53 L330.42,204.58 L330.91,204.64 L331.41,204.7 L331.91,204.76 L332.41,204.83 L332.91,204.89 L333.4,204.96 L333.9,205.02 L334.4,205.07 L334.89,205.12 L335.39,205.16 L335.89,205.19 L336.39,205.21 L336.89,205.21 L337.39,205.2 L337.9,205.17 L338.4,205.12 L338.9,205.06 L339.4,204.97 L339.89,204.87 L340.38,204.76 L340.87,204.62 L341.35,204.46 L341.82,204.29 L342.28,204.1 L342.73,203.89 L343.17,203.66 L343.6,203.42 L344.03,203.16 L344.44,202.88 L344.85,202.6 L345.25,202.3 L345.65,201.99 L346.04,201.68 L346.43,201.36 L346.82,201.03 L347.2,200.7 L347.58,200.37 L347.96,200.04 L348.35,199.71 L348.73,199.38 L349.11,199.05 L349.5,198.73 L349.89,198.41 L350.28,198.09 L350.67,197.78 L351.07,197.48 L351.47,197.18 L351.87,196.88 L352.28,196.59 L352.69,196.3 L353.1,196.02 L353.52,195.75 L353.94,195.48 L354.36,195.22 L354.79,194.96 L355.23,194.71 L355.66,194.47 L356.11,194.24 L356.55,194.01 L357.01,193.79 L357.46,193.58 L357.92,193.38 L358.38,193.19 L358.85,193 L359.32,192.83 L359.8,192.67 L360.28,192.52 L360.76,192.39 L361.25,192.26 L361.74,192.15 L362.23,192.05 L362.73,191.97 L363.23,191.9 L363.73,191.84 L364.23,191.8 L364.73,191.78 L365.23,191.77 L365.73,191.78 L366.23,191.8 L366.73,191.84 L367.22,191.9 L367.72,191.98 L368.21,192.07 L368.7,192.18 L369.19,192.3 L369.67,192.43 L370.16,192.57 L370.63,192.73 L371.11,192.89 L371.58,193.07 L372.05,193.25 L372.51,193.45 L372.97,193.65 L373.42,193.86 L373.87,194.08 L374.32,194.3 L374.76,194.54 L375.2,194.78 L375.63,195.03 L376.06,195.29 L376.49,195.56 L376.91,195.83 L377.33,196.11 L377.74,196.4 L378.15,196.69 L378.55,196.99 L378.96,197.29 L379.36,197.58 L379.77,197.88 L380.18,198.18 L380.59,198.47 L381,198.75 L381.42,199.02 L381.84,199.28 L382.27,199.53 L382.71,199.76 L383.16,199.98 L383.62,200.18 L384.09,200.36 L384.56,200.52 L385.05,200.66 L385.54,200.78 L386.03,200.89 L386.53,200.97 L387.03,201.03 L387.53,201.07 L388.04,201.1 L388.54,201.1 L389.04,201.08 L389.54,201.04 L390.04,200.99 L390.54,200.92 L391.03,200.83 L391.52,200.73 L392.01,200.62 L392.5,200.49 L392.98,200.36 L393.46,200.21 L393.94,200.06 L394.42,199.9 L394.89,199.74 L395.36,199.57 L395.83,199.4 L396.3,199.23 L396.77,199.05 L397.24,198.89 L397.71,198.72 L398.18,198.56 L398.66,198.41 L399.14,198.26 L399.62,198.12 L400.1,198 L400.59,197.88 L401.08,197.78 L401.58,197.68 L402.07,197.6 L402.57,197.53 L403.07,197.48 L403.57,197.43 L404.07,197.4 L404.57,197.38 L405.07,197.38 L405.58,197.39 L406.08,197.41 L406.58,197.45 L407.07,197.49 L407.57,197.56 L408.07,197.63 L408.56,197.72 L409.05,197.82 L409.54,197.93 L410.03,198.05 L410.51,198.18 L410.99,198.33 L411.47,198.48 L411.95,198.65 L412.42,198.82 L412.89,199 L413.36,199.19 L413.82,199.39 L414.28,199.6 L414.74,199.82 L415.19,200.04 L415.64,200.27 L416.08,200.51 L416.52,200.75 L416.95,201 L417.38,201.26 L417.81,201.52 L418.23,201.79 L418.64,202.06 L419,202.3" stroke="#000" stroke-width="2.1"/>
</g>
<g stroke="#7a7a7a" stroke-width="1.5">
<line x1="47.14" x2="47.14" y1="268.95" y2="266.65"/>
<line x1="66.67" x2="66.67" y1="268.95" y2="266.65"/>
<line x1="86.2" x2="86.2" y1="268.95" y2="266.65"/>
<line x1="105.74" x2="105.74" y1="268.95" y2="265.05"/>
<line x1="125.28" x2="125.28" y1="268.95" y2="266.65"/>
<line x1="144.81" x2="144.81" y1="268.95" y2="266.65"/>
<line x1="164.34" x2="164.34" y1="268.95" y2="266.65"/>
<line x1="183.88" x2="183.88" y1="268.95" y2="265.05"/>
<line x1="203.41" x2="203.41" y1="268.95" y2="266.65"/>
<line x1="222.95" x2="222.95" y1="268.95" y2="266.65"/>
<line x1="242.48" x2="242.48" y1="268.95" y2="266.65"/>
<line x1="262.02" x2="262.02" y1="268.95" y2="265.05"/>
<line x1="281.56" x2="281.56" y1="268.95" y2="266.65"/>
<line x1="301.09" x2="301.09" y1="268.95" y2="266.65"/>
<line x1="320.62" x2="320.62" y1="268.95" y2="266.65"/>
<line x1="340.16" x2="340.16" y1="268.95" y2="265.05"/>
<line x1="359.69" x2="359.69" y1="268.95" y2="266.65"/>
<line x1="379.23" x2="379.23" y1="268.95" y2="266.65"/>
<line x1="398.77" x2="398.77" y1="268.95" y2="266.65"/>
<line x1="418.3" x2="418.3" y1="268.95" y2="265.05"/>
</g>
<g stroke="#bbb" stroke-width="0.8">
<line x1="28.4" x2="30.6" y1="243.95" y2="243.95"/>
<line x1="28.4" x2="32" y1="217" y2="217"/>
<line x1="28.4" x2="30.6" y1="190.05" y2="190.05"/>
<line x1="28.4" x2="32" y1="163.1" y2="163.1"/>
<line x1="28.4" x2="30.6" y1="136.15" y2="136.15"/>
<line x1="28.4" x2="32" y1="109.2" y2="109.2"/>
<line x1="28.4" x2="30.6" y1="82.25" y2="82.25"/>
<line x1="28.4" x2="32" y1="55.3" y2="55.3"/>
</g>
<path d="M27.8,28.9 V270.25" fill="none" stroke="#000" stroke-width="1.35"/>
<path d="M27.3,269.5 H419" fill="none" stroke="#000" stroke-width="1.55"/>
</svg>
<div class="txw"><div class="txt">
<div class="t xl" style="left:1060.4px">200</div>
<div class="t xl" style="left:1841.8px">400</div>
<div class="t xl" style="left:2623.2px">600</div>
<div class="t xl" style="left:3404.6px">800</div>
<div class="t xl" style="left:4186px">1000</div>
<div class="t" style="left:0;width:236px;text-align:right;top:2098px">100</div>
<div class="t" style="left:0;width:236px;text-align:right;top:2628px">1</div>
<div class="t" style="left:19px;top:1566px">10<span class="s" style="top:-52px;margin-left:-9px">4</span></div>
<div class="t" style="left:19px;top:1027px">10<span class="s" style="top:-52px;margin-left:-9px">6</span></div>
<div class="t" style="left:19px;top:488px">10<span class="s" style="top:-52px;margin-left:-9px">8</span></div>
<div class="t" style="left:182px;top:45px"><i>N</i><span class="s" style="top:23px;margin-left:2px">1</span></div>
<div class="t" style="left:4281px;top:2632px;font-size:136px;-webkit-text-stroke-width:1.5px">t</div>
<div class="lab" style="left:3322px;top:1062px">&Omega;<i style="margin-left:54px">R</i><b class="ne" style="margin-left:13px">&ne;</b><span style="margin-left:46px">&Omega;</span><i style="margin-left:39px">L</i></div>
<div class="lab" style="left:3412px;top:1642px">&Omega;<i style="margin-left:45px">R</i><b class="eq" style="margin-left:2px">=</b><span style="margin-left:46px">&Omega;</span><i style="margin-left:44px">L</i></div>
</div></div>
</body></html>
